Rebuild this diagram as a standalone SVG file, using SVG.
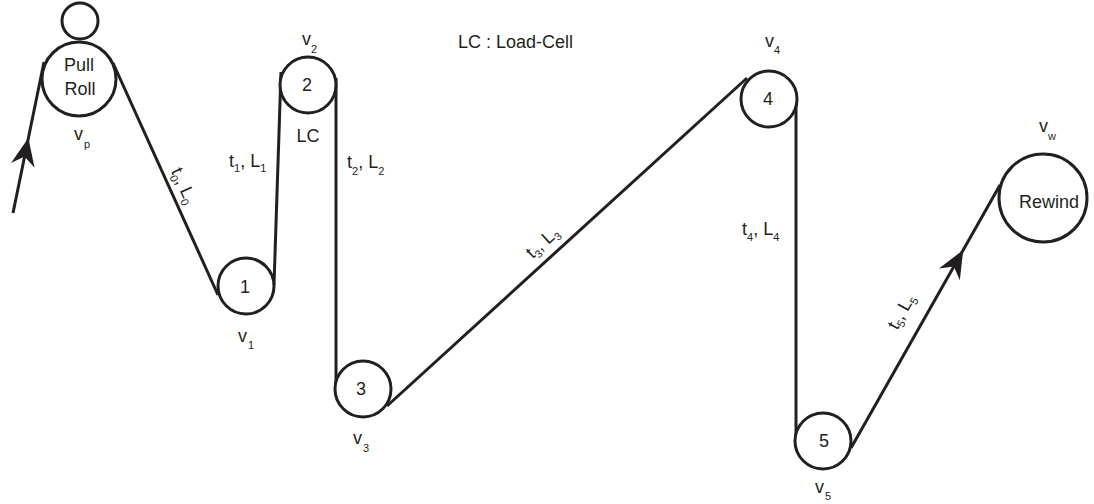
<svg xmlns="http://www.w3.org/2000/svg" width="1094" height="504" viewBox="0 0 1094 504">
<style>
.belt{fill:none;stroke:#231f20;stroke-width:3}
.roll{fill:#fff;stroke:#231f20;stroke-width:3}
text{font-family:"Liberation Sans",Arial,sans-serif;font-size:18px;fill:#231f20}
.sub{font-size:11px}
.mid{text-anchor:middle}
</style>
<defs>
<marker id="arrowhead" markerUnits="userSpaceOnUse" markerWidth="32" markerHeight="28" viewBox="-30 -14 32 28" refX="0" refY="0" orient="auto">
<path d="M0,0 L-28,-12 L-19,0 L-28,12 Z" fill="#231f20"/>
</marker>
</defs>
<g id="connectors">
<path class="belt" d="M13,213 L28.4,138 L44,62" marker-mid="url(#arrowhead)"/>
<path class="belt" d="M113,63 L218,295"/>
<path class="belt" d="M274,285 L281,72"/>
<path class="belt" d="M336,78 L336,390"/>
<path class="belt" d="M387,406 L747,78"/>
<path class="belt" d="M796,95 L796,442"/>
<path class="belt" d="M851,448 L963.2,250 L1000,185" marker-mid="url(#arrowhead)"/>
</g>
<g id="span-labels">
<text transform="translate(183,186) rotate(65.7)" class="mid" y="5">t<tspan class="sub" dy="4">0</tspan><tspan dy="-4">, L</tspan><tspan class="sub" dy="4">0</tspan></text>
<text x="229" y="167">t<tspan class="sub" dy="5">1</tspan><tspan dy="-5">, L</tspan><tspan class="sub" dy="5">1</tspan></text>
<text x="347" y="168">t<tspan class="sub" dy="7">2</tspan><tspan dy="-7">, L</tspan><tspan class="sub" dy="7">2</tspan></text>
<text transform="translate(543,243) rotate(-42.3)" class="mid" y="5">t<tspan class="sub" dy="4">3</tspan><tspan dy="-4">, L</tspan><tspan class="sub" dy="4">3</tspan></text>
<text x="742" y="235">t<tspan class="sub" dy="6">4</tspan><tspan dy="-6">, L</tspan><tspan class="sub" dy="6">4</tspan></text>
<text transform="translate(902,312) rotate(-60.5)" class="mid" y="5">t<tspan class="sub" dy="4">5</tspan><tspan dy="-4">, L</tspan><tspan class="sub" dy="4">5</tspan></text>
<text x="458" y="48">LC : Load-Cell</text>
</g>
<g id="pull-roll">
<circle class="roll" cx="80" cy="21" r="18"/>
<circle class="roll" cx="79" cy="79" r="37"/>
<text class="mid" x="79" y="71">Pull</text>
<text class="mid" x="80" y="95">Roll</text>
<text x="74" y="140">v<tspan class="sub" dx="1" dy="8">p</tspan></text>
</g>
<g id="roller-1">
<circle class="roll" cx="246" cy="286" r="28"/>
<text class="mid" x="245" y="293">1</text>
<text x="238" y="342">v<tspan class="sub" dx="1" dy="7">1</tspan></text>
</g>
<g id="roller-2">
<circle class="roll" cx="308" cy="85" r="28"/>
<text class="mid" x="307" y="91">2</text>
<text x="302" y="45">v<tspan class="sub" dx="0" dy="8">2</tspan></text>
<text class="mid" x="308" y="142">LC</text>
</g>
<g id="roller-3">
<circle class="roll" cx="363" cy="389" r="28"/>
<text class="mid" x="361" y="395">3</text>
<text x="353" y="444">v<tspan class="sub" dx="1" dy="8">3</tspan></text>
</g>
<g id="roller-4">
<circle class="roll" cx="769" cy="99" r="28"/>
<text class="mid" x="768" y="105">4</text>
<text x="765" y="47">v<tspan class="sub" dx="0" dy="7">4</tspan></text>
</g>
<g id="roller-5">
<circle class="roll" cx="823" cy="441" r="28"/>
<text class="mid" x="824" y="447">5</text>
<text x="815" y="493">v<tspan class="sub" dx="1" dy="7">5</tspan></text>
</g>
<g id="rewind">
<circle class="roll" cx="1043" cy="198" r="44"/>
<text class="mid" x="1049" y="208">Rewind</text>
<text x="1039" y="132">v<tspan class="sub" dx="0" dy="8">w</tspan></text>
</g>
</svg>
